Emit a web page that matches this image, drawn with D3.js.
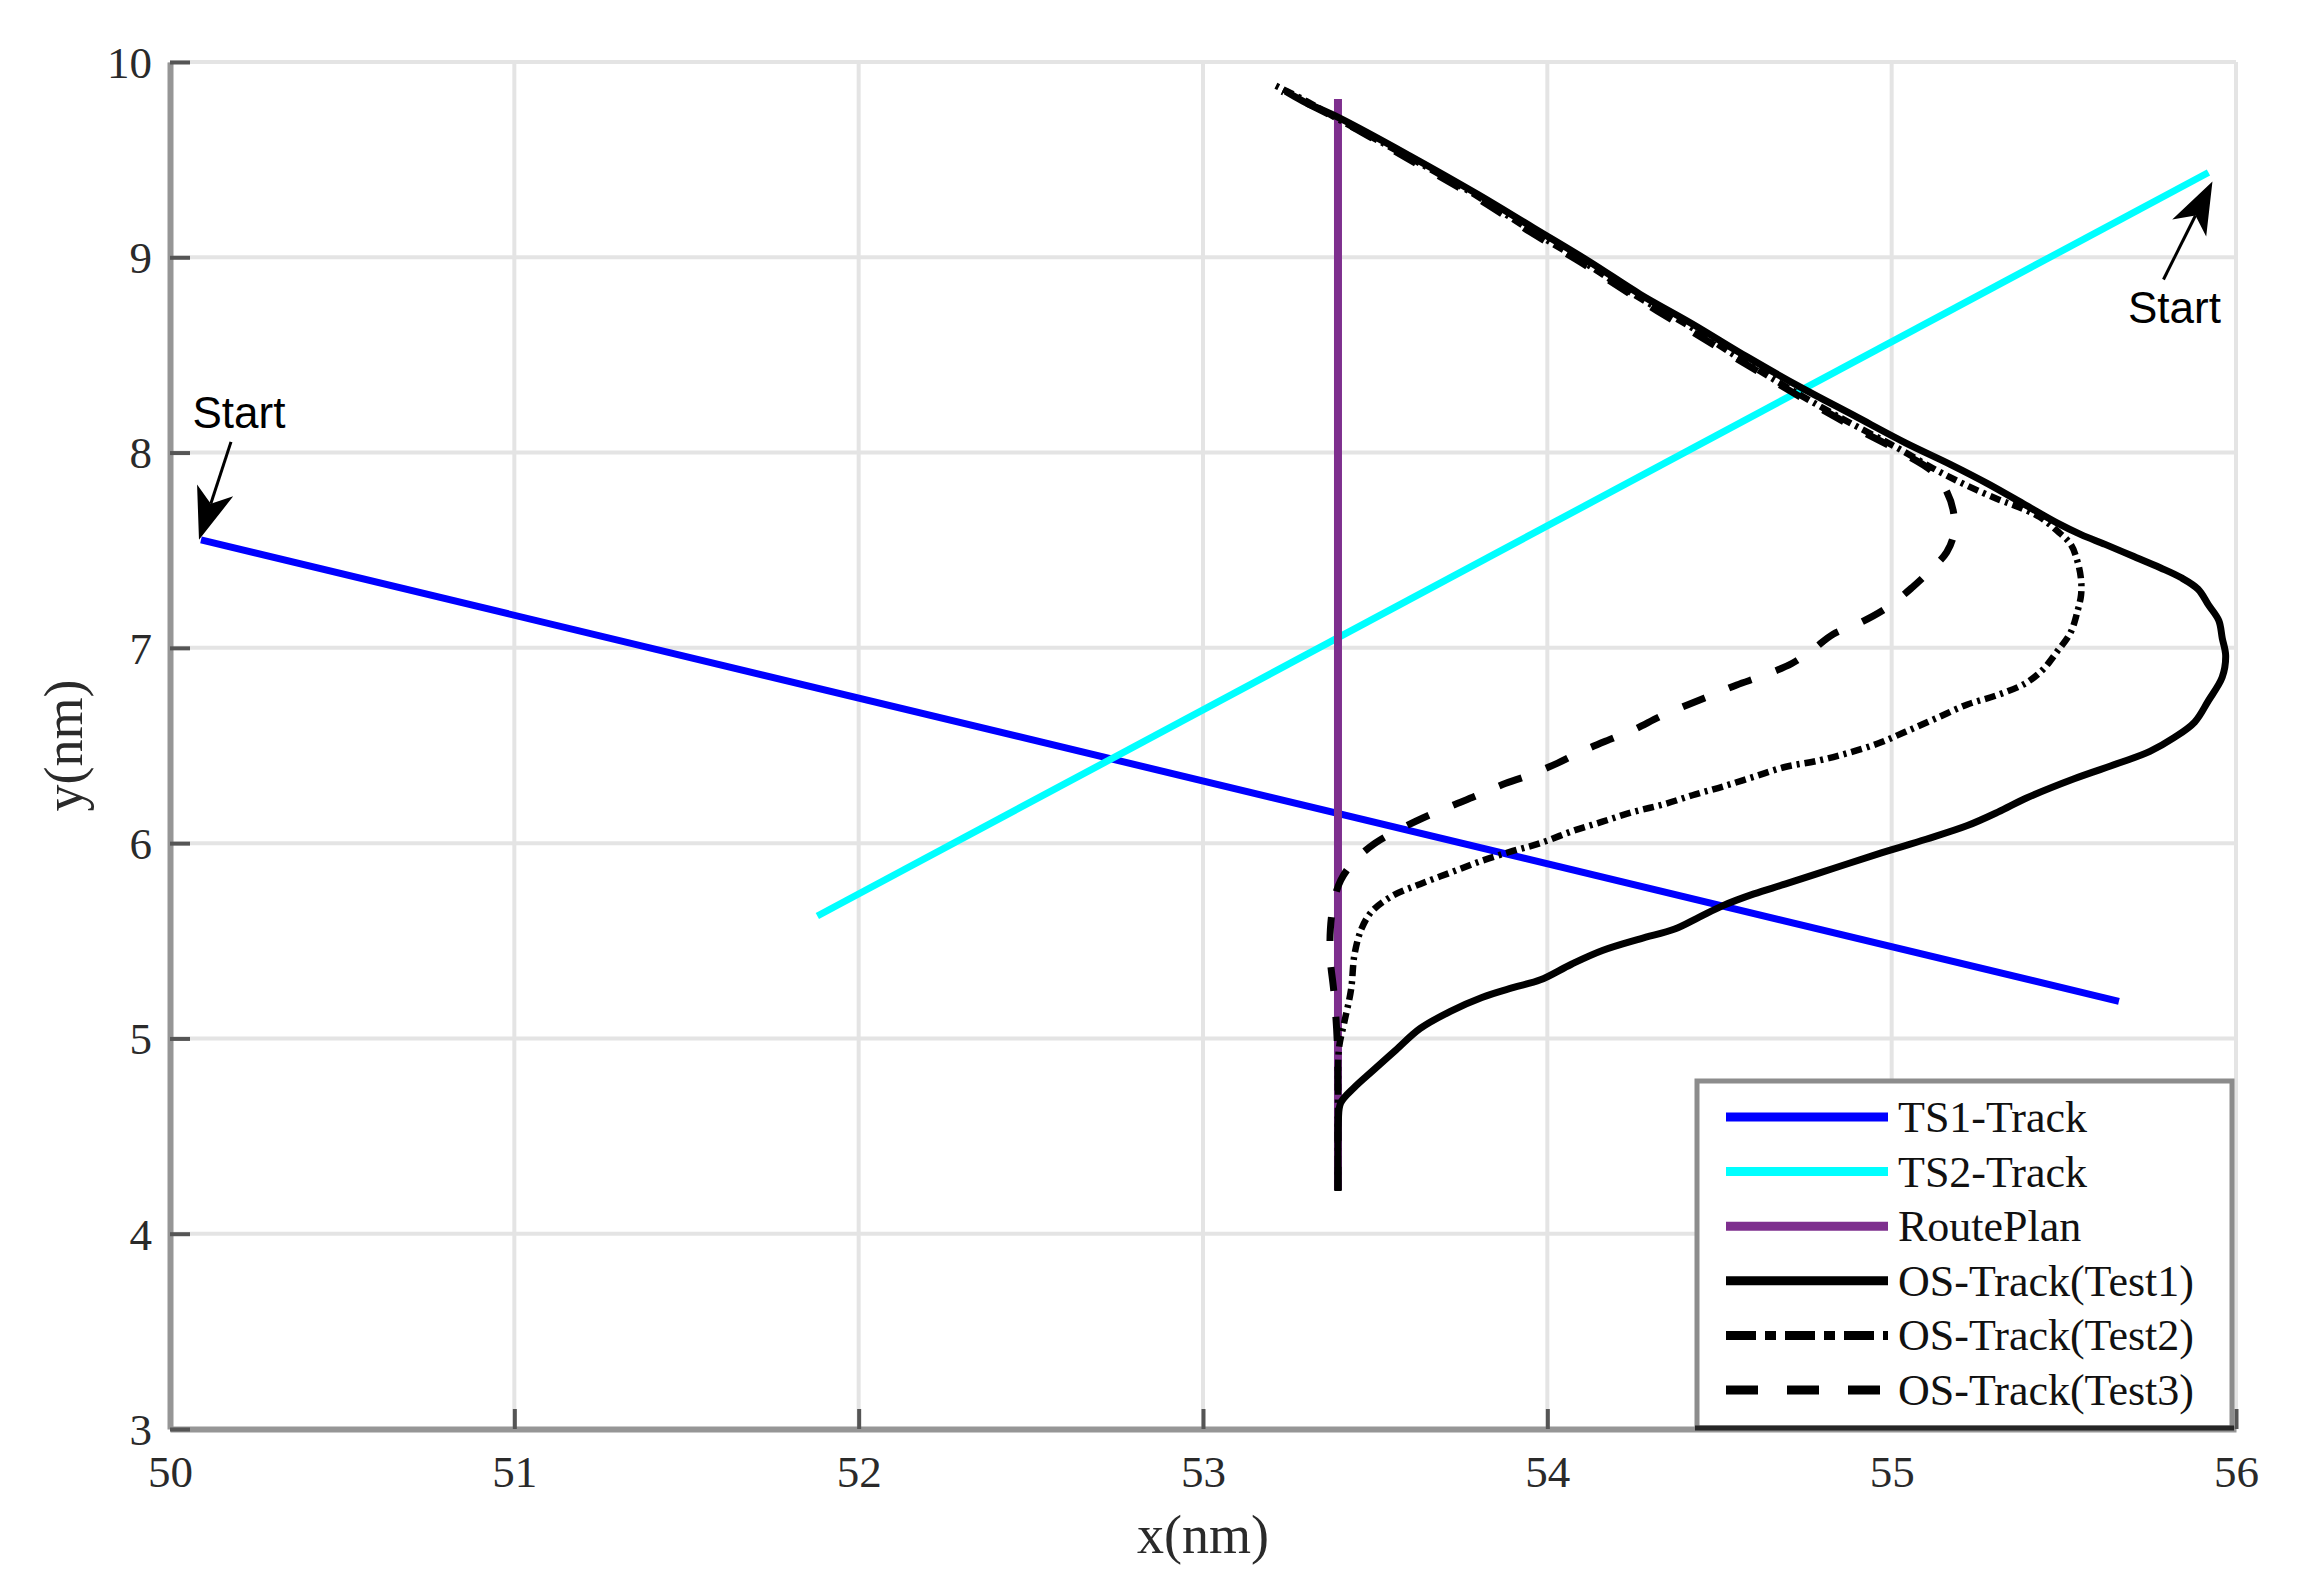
<!DOCTYPE html>
<html>
<head>
<meta charset="utf-8">
<script src="https://cdn.jsdelivr.net/npm/d3@7"></script>
<style>
  html, body { margin: 0; padding: 0; background: #ffffff; }
  svg { display: block; }
</style>
</head>
<body>
<svg id="chart" width="2313" height="1589"></svg>
<script>
// ---------------- data ----------------
const xTicks = [50, 51, 52, 53, 54, 55, 56];
const yTicks = [3, 4, 5, 6, 7, 8, 9, 10];
const xLabel = "x(nm)";
const yLabel = "y(nm)";

const seriesNames = ["TS1-Track", "TS2-Track", "RoutePlan", "OS-Track(Test1)", "OS-Track(Test2)", "OS-Track(Test3)"];

const ts1Track = [[50.09, 7.553], [55.66, 5.19]];
const ts2Track = [[51.88, 5.627], [55.92, 9.434]];
const routePlan = [[53.392, 4.224], [53.392, 9.81]];

const osTest1 = [
  [53.392, 4.22], [53.392, 4.45], [53.393, 4.58], [53.40, 4.67], [53.44, 4.75], [53.49, 4.83],
  [53.56, 4.94], [53.63, 5.05], [53.72, 5.14], [53.81, 5.21], [53.90, 5.26], [53.98, 5.30],
  [54.07, 5.38], [54.16, 5.45], [54.27, 5.51], [54.37, 5.56], [54.44, 5.62], [54.51, 5.68],
  [54.60, 5.74], [54.69, 5.79], [54.83, 5.87], [54.97, 5.95], [55.10, 6.02], [55.22, 6.09],
  [55.31, 6.16], [55.39, 6.23], [55.53, 6.33], [55.66, 6.41], [55.75, 6.47], [55.82, 6.54],
  [55.88, 6.62], [55.92, 6.73], [55.96, 6.85], [55.97, 6.96], [55.96, 7.05], [55.95, 7.14],
  [55.92, 7.22], [55.89, 7.30], [55.84, 7.36], [55.78, 7.41], [55.70, 7.47], [55.62, 7.53],
  [55.55, 7.58], [55.48, 7.64], [55.39, 7.73], [55.28, 7.84], [55.17, 7.94], [55.04, 8.05],
  [54.89, 8.19], [54.74, 8.33], [54.58, 8.49], [54.42, 8.66], [54.27, 8.81], [54.12, 8.98],
  [53.96, 9.15], [53.80, 9.32], [53.60, 9.52], [53.40, 9.71], [53.29, 9.80], [53.24, 9.85]
];

const osTest2 = [
  [53.392, 4.22], [53.392, 4.70], [53.395, 4.95], [53.41, 5.08], [53.43, 5.25], [53.44, 5.43],
  [53.46, 5.56], [53.49, 5.65], [53.55, 5.73], [53.63, 5.79], [53.72, 5.85], [53.81, 5.91],
  [53.90, 5.96], [53.98, 6.00], [54.07, 6.06], [54.16, 6.11], [54.25, 6.16], [54.34, 6.20],
  [54.43, 6.25], [54.51, 6.29], [54.60, 6.34], [54.69, 6.39], [54.78, 6.42], [54.87, 6.46],
  [54.96, 6.51], [55.04, 6.57], [55.13, 6.64], [55.22, 6.71], [55.31, 6.76], [55.39, 6.82],
  [55.44, 6.89], [55.48, 6.98], [55.52, 7.08], [55.54, 7.19], [55.55, 7.27], [55.55, 7.35],
  [55.54, 7.44], [55.52, 7.53], [55.48, 7.60], [55.43, 7.67], [55.37, 7.72], [55.31, 7.76],
  [55.22, 7.83], [55.13, 7.91], [55.01, 8.03], [54.86, 8.17], [54.71, 8.32], [54.56, 8.48],
  [54.41, 8.65], [54.26, 8.80], [54.11, 8.97], [53.95, 9.14], [53.79, 9.32], [53.59, 9.52],
  [53.39, 9.71], [53.30, 9.80], [53.21, 9.88]
];

const osTest3 = [
  [53.392, 4.22], [53.392, 4.70], [53.39, 4.98], [53.38, 5.24], [53.37, 5.40], [53.37, 5.56],
  [53.38, 5.70], [53.40, 5.81], [53.44, 5.91], [53.50, 6.00], [53.57, 6.07], [53.64, 6.13],
  [53.72, 6.19], [53.79, 6.24], [53.87, 6.30], [53.95, 6.35], [54.03, 6.41], [54.10, 6.47],
  [54.18, 6.53], [54.25, 6.58], [54.33, 6.65], [54.41, 6.71], [54.48, 6.76], [54.55, 6.81],
  [54.63, 6.86], [54.71, 6.92], [54.77, 6.99], [54.83, 7.07], [54.91, 7.13], [54.99, 7.21],
  [55.06, 7.31], [55.12, 7.41], [55.16, 7.49], [55.18, 7.58], [55.18, 7.69], [55.16, 7.80],
  [55.12, 7.90], [55.03, 8.00], [54.88, 8.14], [54.73, 8.29], [54.57, 8.46], [54.41, 8.63],
  [54.26, 8.79], [54.11, 8.96], [53.95, 9.13], [53.79, 9.31], [53.59, 9.51], [53.39, 9.71],
  [53.23, 9.85]
];

const startLabel = "Start";

// ---------------- layout ----------------
const svg = d3.select("#chart");
const x = d3.scaleLinear().domain([50, 56]).range([170, 2236]);
const y = d3.scaleLinear().domain([3, 10]).range([1429, 62]);

const serif = "'Liberation Serif', 'Times New Roman', serif";
const sans = "'Liberation Sans', Arial, sans-serif";

// grid
const grid = svg.append("g");
grid.selectAll("line.gx").data(xTicks).join("line")
  .attr("x1", d => x(d)).attr("x2", d => x(d))
  .attr("y1", y(10)).attr("y2", y(3))
  .attr("stroke", "#e4e4e4").attr("stroke-width", 4);
grid.selectAll("line.gy").data(yTicks).join("line")
  .attr("x1", x(50)).attr("x2", x(56))
  .attr("y1", d => y(d)).attr("y2", d => y(d))
  .attr("stroke", "#e4e4e4").attr("stroke-width", 4);

// series
const line = d3.line().x(d => x(d[0])).y(d => y(d[1]));
const smooth = d3.line().x(d => x(d[0])).y(d => y(d[1])).curve(d3.curveCatmullRom.alpha(0.5));

const series = [
  { name: seriesNames[0], data: ts1Track, color: "#0000ff", width: 7, dash: null, gen: line, legendDash: null },
  { name: seriesNames[1], data: ts2Track, color: "#00ffff", width: 7, dash: null, gen: line, legendDash: null },
  { name: seriesNames[2], data: routePlan, color: "#7e2f8e", width: 8, dash: null, gen: line, legendDash: null },
  { name: seriesNames[5], data: osTest3, color: "#000000", width: 7, dash: "24,26", gen: smooth, legendDash: "32,29" },
  { name: seriesNames[4], data: osTest2, color: "#000000", width: 6.5, dash: "11,5,3,5", gen: smooth, legendDash: "30,9,11,9" },
  { name: seriesNames[3], data: osTest1, color: "#000000", width: 7, dash: null, gen: smooth, legendDash: null }
];

svg.append("g").selectAll("path").data(series).join("path")
  .attr("d", d => d.gen(d.data))
  .attr("fill", "none")
  .attr("stroke", d => d.color)
  .attr("stroke-width", d => d.width)
  .attr("stroke-dasharray", d => d.dash)
  .attr("stroke-linejoin", "round");

// axes
const xAxis = svg.append("g").attr("transform", `translate(0,${y(3)})`)
  .call(d3.axisBottom(x).tickValues(xTicks).tickSizeInner(-20).tickSizeOuter(0).tickFormat(d3.format("d")));
const yAxis = svg.append("g").attr("transform", `translate(${x(50)},0)`)
  .call(d3.axisLeft(y).tickValues(yTicks).tickSizeInner(-20).tickSizeOuter(0).tickFormat(d3.format("d")));

[xAxis, yAxis].forEach(a => {
  a.select(".domain").attr("stroke", "#969696").attr("stroke-width", 6);
  a.selectAll(".tick line").attr("stroke", "#555").attr("stroke-width", 4);
  a.selectAll(".tick text").attr("fill", "#2a2a2a").attr("font-family", serif).attr("font-size", 45);
});
xAxis.selectAll(".tick text").attr("y", 26).attr("dy", "0.71em");
yAxis.selectAll(".tick text").attr("x", -18).attr("dy", "0.34em");

// axis labels
svg.append("text").attr("x", x(53)).attr("y", 1553)
  .attr("text-anchor", "middle").attr("font-family", serif).attr("font-size", 54).attr("fill", "#2a2a2a")
  .text(xLabel);
svg.append("text").attr("transform", `translate(82,${(y(3) + y(10)) / 2}) rotate(-90)`)
  .attr("text-anchor", "middle").attr("font-family", serif).attr("font-size", 54).attr("fill", "#2a2a2a")
  .text(yLabel);

// start annotations
function arrow(tipPx, tailPx) {
  const g = svg.append("g");
  const dx = tipPx[0] - tailPx[0], dy = tipPx[1] - tailPx[1];
  const L = Math.hypot(dx, dy);
  const ux = dx / L, uy = dy / L, px = -uy, py = ux;
  const len = 52, hw = 19, notch = 38;
  const base = [tipPx[0] - ux * notch, tipPx[1] - uy * notch];
  g.append("line").attr("x1", tailPx[0]).attr("y1", tailPx[1]).attr("x2", base[0]).attr("y2", base[1])
    .attr("stroke", "#000").attr("stroke-width", 3);
  const pts = [
    tipPx,
    [tipPx[0] - ux * len + px * hw, tipPx[1] - uy * len + py * hw],
    base,
    [tipPx[0] - ux * len - px * hw, tipPx[1] - uy * len - py * hw]
  ];
  g.append("polygon").attr("points", pts.map(p => p.join(",")).join(" ")).attr("fill", "#000");
}
const s1 = [x(ts1Track[0][0]), y(ts1Track[0][1])];
arrow([s1[0] - 2, s1[1]], [s1[0] + 30, s1[1] - 98]);
svg.append("text").attr("x", s1[0] + 38).attr("y", s1[1] - 112)
  .attr("text-anchor", "middle").attr("font-family", sans).attr("font-size", 44).attr("fill", "#000")
  .text(startLabel);

const s2 = [x(ts2Track[1][0]), y(ts2Track[1][1])];
arrow([s2[0] + 4, s2[1] + 9], [s2[0] - 45, s2[1] + 107]);
svg.append("text").attr("x", s2[0] - 34).attr("y", s2[1] + 150)
  .attr("text-anchor", "middle").attr("font-family", sans).attr("font-size", 44).attr("fill", "#000")
  .text(startLabel);

// legend
const legend = svg.append("g");
const lgX = 1697, lgY = 1081, lgW = 535, lgH = 347;
legend.append("rect").attr("x", lgX).attr("y", lgY).attr("width", lgW).attr("height", lgH)
  .attr("fill", "#fff").attr("stroke", "#8c8c8c").attr("stroke-width", 5);
legend.append("line").attr("x1", lgX - 2).attr("x2", lgX + lgW + 2).attr("y1", lgY + lgH).attr("y2", lgY + lgH)
  .attr("stroke", "#262626").attr("stroke-width", 5);

const legendOrder = [0, 1, 2, 5, 4, 3].map(i => series[i]);
const rows = legend.selectAll("g.row").data(legendOrder).join("g")
  .attr("transform", (d, i) => `translate(0,${lgY + 36 + i * 54.6})`);
rows.append("line").attr("x1", 1726).attr("x2", 1888).attr("y1", 0).attr("y2", 0)
  .attr("stroke", d => d.color).attr("stroke-width", 9)
  .attr("stroke-dasharray", d => d.legendDash);
rows.append("text").attr("x", 1898).attr("y", 0).attr("dy", "0.34em")
  .attr("font-family", serif).attr("font-size", 44).attr("fill", "#111")
  .text(d => d.name);
</script>
</body>
</html>
